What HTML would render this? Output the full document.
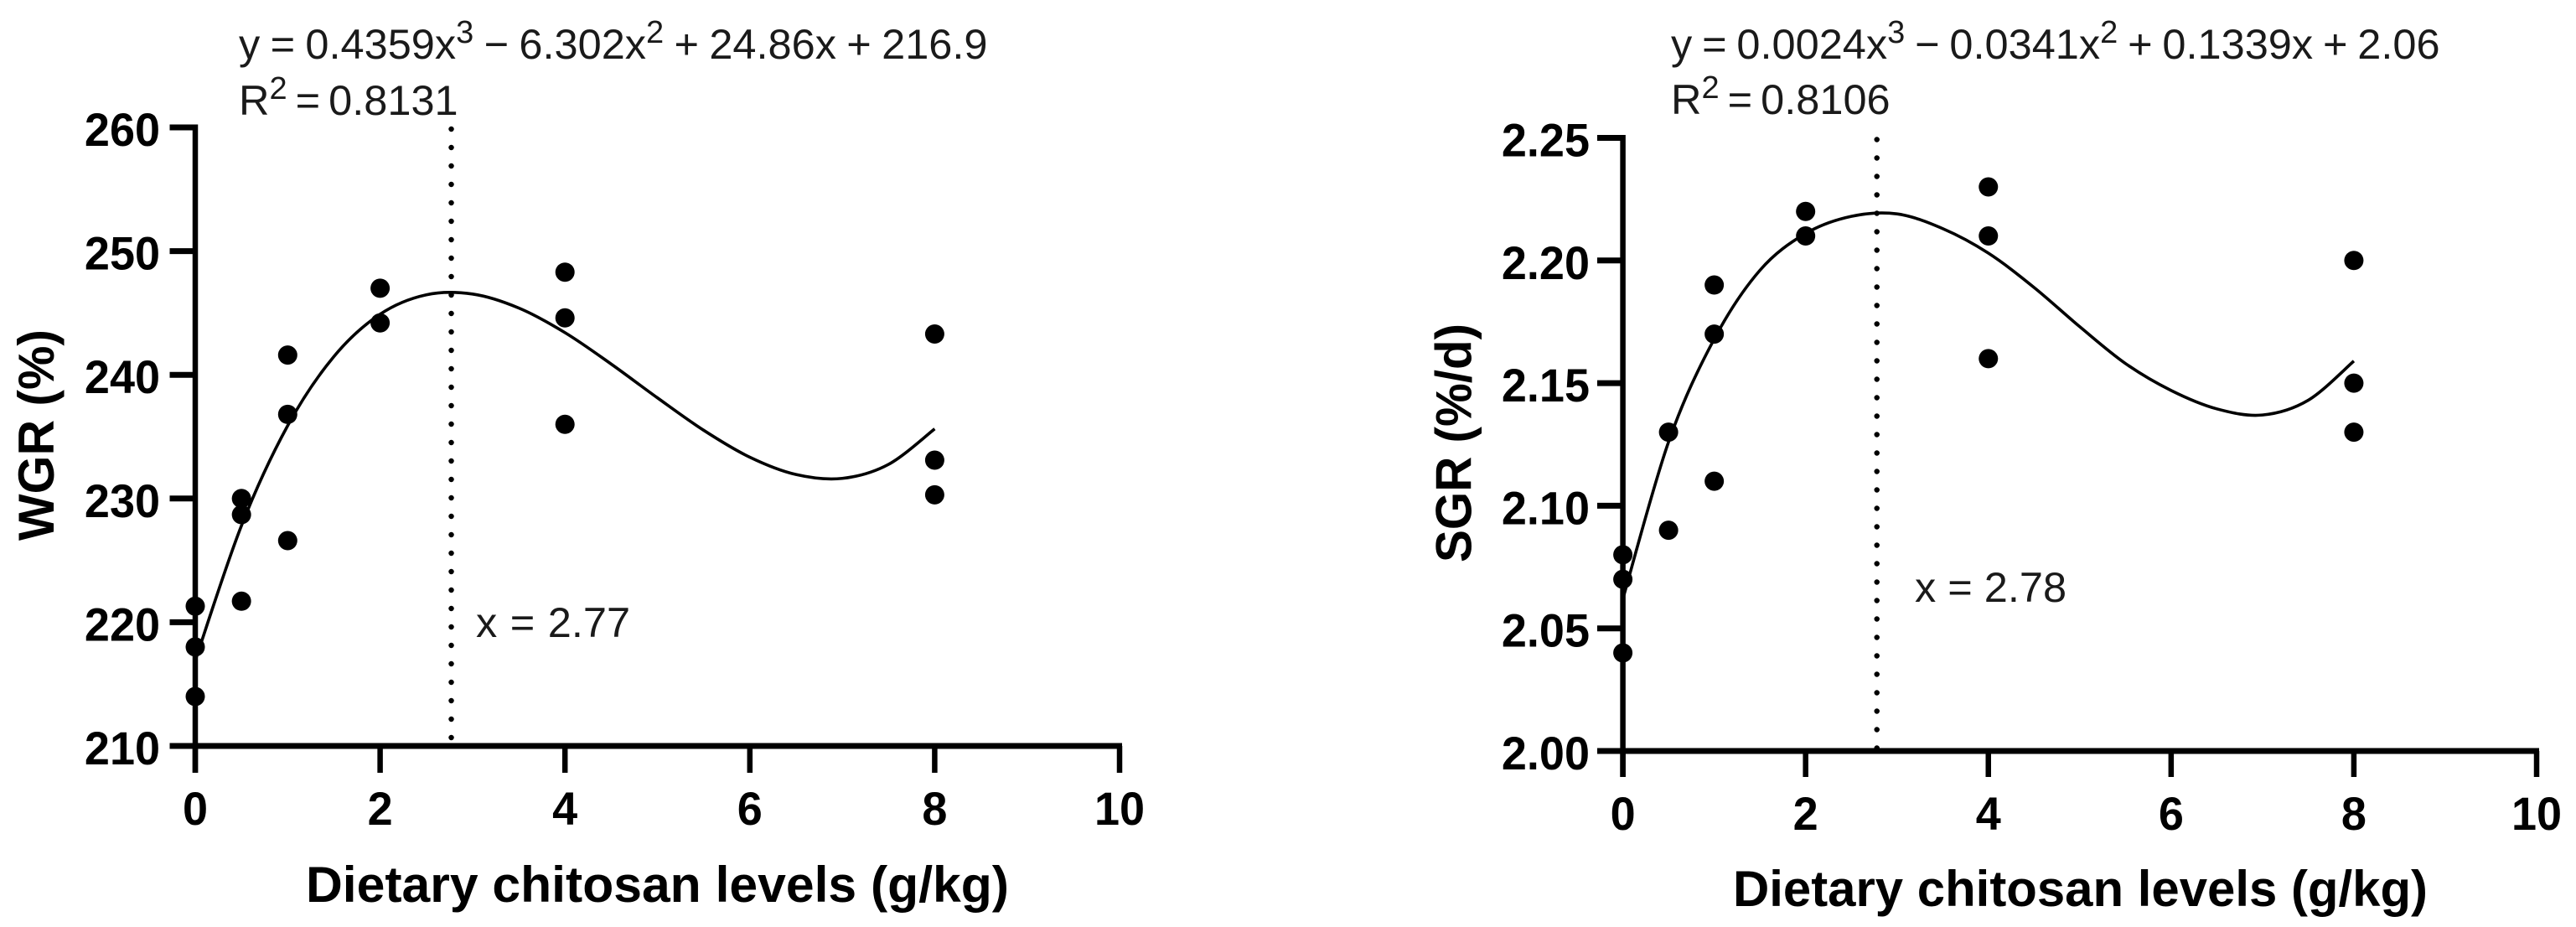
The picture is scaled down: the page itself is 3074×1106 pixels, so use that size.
<!DOCTYPE html>
<html lang="en">
<head>
<meta charset="utf-8">
<title>WGR and SGR vs dietary chitosan levels</title>
<style>
html,body{margin:0;padding:0;background:#fff;width:3074px;height:1106px;overflow:hidden}
svg{display:block}
text{font-family:"Liberation Sans",Arial,sans-serif;fill:#000}
.tick{font-weight:700;font-size:56px}
.title{font-weight:700;font-size:60px}
.note{font-size:50.5px;fill:#1a1a1a}
.eq{word-spacing:-1.7px}
.eq2{word-spacing:-2.2px}
.r2{word-spacing:-4px}
.opt{word-spacing:1.5px}
.opt2{word-spacing:0}
.sup{font-size:38px}
</style>
</head>
<body>
<svg id="figure" xmlns="http://www.w3.org/2000/svg" width="3074" height="1106" viewBox="0 0 3074 1106">
  <rect width="3074" height="1106" fill="#fff"/>

  <g id="panel-wgr">
    <text class="note eq" x="285" y="70">y = 0.4359x<tspan class="sup" dy="-19">3</tspan><tspan dy="19"> − 6.302x</tspan><tspan class="sup" dy="-19">2</tspan><tspan dy="19"> + 24.86x + 216.9</tspan></text>
    <text class="note r2" x="285" y="137">R<tspan class="sup" dy="-19">2</tspan><tspan dy="19"> = 0.8131</tspan></text>
    <text class="note opt" x="568" y="760">x = 2.77</text>
    <text class="title" transform="translate(64,645) rotate(-90)" textLength="252" lengthAdjust="spacingAndGlyphs">WGR (%)</text>
    <text class="title" x="365" y="1076" textLength="839" lengthAdjust="spacingAndGlyphs">Dietary chitosan levels (g/kg)</text>
  </g>

  <g id="panel-sgr">
    <text class="note eq2" x="1994" y="70">y = 0.0024x<tspan class="sup" dy="-19">3</tspan><tspan dy="19"> − 0.0341x</tspan><tspan class="sup" dy="-19">2</tspan><tspan dy="19"> + 0.1339x + 2.06</tspan></text>
    <text class="note r2" x="1994" y="136">R<tspan class="sup" dy="-19">2</tspan><tspan dy="19"> = 0.8106</tspan></text>
    <text class="note opt2" x="2285" y="718">x = 2.78</text>
    <text class="title" transform="translate(1755.5,671) rotate(-90)" textLength="285" lengthAdjust="spacingAndGlyphs">SGR (%/d)</text>
    <text class="title" x="2068" y="1081" textLength="829" lengthAdjust="spacingAndGlyphs">Dietary chitosan levels (g/kg)</text>
  </g>
</svg>

<script>
// Shared x axis
const xTickValues = [0, 2, 4, 6, 8, 10];

// WGR panel data
const wgrYTickValues = [210, 220, 230, 240, 250, 260];
const wgrYTickLabels = ["210", "220", "230", "240", "250", "260"];
const wgrPointX = [0, 0, 0, 0.5, 0.5, 0.5, 1, 1, 1, 2, 2, 4, 4, 4, 8, 8, 8];
const wgrPointY = [221.3, 218.0, 214.0, 230.0, 228.7, 221.7, 241.6, 236.8, 226.6, 247.0, 244.2, 248.3, 244.6, 236.0, 243.3, 233.1, 230.3];
const wgrCurveX = [0, 0.5, 1, 1.5, 2, 2.5, 3, 3.5, 4, 4.5, 5, 5.5, 6, 6.5, 7, 7.5, 8];
const wgrCurveY = [216.9, 227.81, 235.89, 241.48, 244.90, 246.47, 246.53, 245.40, 243.41, 240.87, 238.14, 235.52, 233.34, 231.94, 231.63, 232.76, 235.63];
const wgrOptimumX = 2.77;

// SGR panel data
const sgrYTickValues = [2.00, 2.05, 2.10, 2.15, 2.20, 2.25];
const sgrYTickLabels = ["2.00", "2.05", "2.10", "2.15", "2.20", "2.25"];
const sgrPointX = [0, 0, 0, 0.5, 0.5, 1, 1, 1, 2, 2, 4, 4, 4, 8, 8, 8];
const sgrPointY = [2.08, 2.07, 2.04, 2.13, 2.09, 2.19, 2.17, 2.11, 2.22, 2.21, 2.23, 2.21, 2.16, 2.20, 2.15, 2.13];
const sgrCurveX = [0, 0.5, 1, 1.5, 2, 2.5, 3, 3.5, 4, 4.5, 5, 5.5, 6, 6.5, 7, 7.5, 8];
const sgrCurveY = [2.062, 2.126, 2.168, 2.196, 2.211, 2.218, 2.219, 2.213, 2.203, 2.189, 2.173, 2.158, 2.147, 2.1395, 2.137, 2.143, 2.159];
const sgrOptimumX = 2.78;

const SVG_NS = "http://www.w3.org/2000/svg";

function make(parent, tag, attrs) {
  const el = document.createElementNS(SVG_NS, tag);
  for (const k in attrs) el.setAttribute(k, attrs[k]);
  parent.appendChild(el);
  return el;
}

function condense(textEl) {
  textEl.setAttribute('textLength', (textEl.getComputedTextLength() * 0.964).toFixed(2));
  textEl.setAttribute('lengthAdjust', 'spacingAndGlyphs');
}

function smoothPath(pts) {
  let d = "M" + pts[0][0].toFixed(2) + " " + pts[0][1].toFixed(2);
  for (let i = 0; i < pts.length - 1; i++) {
    const p0 = pts[Math.max(i - 1, 0)];
    const p1 = pts[i];
    const p2 = pts[i + 1];
    const p3 = pts[Math.min(i + 2, pts.length - 1)];
    const c1x = p1[0] + (p2[0] - p0[0]) / 6;
    const c1y = p1[1] + (p2[1] - p0[1]) / 6;
    const c2x = p2[0] - (p3[0] - p1[0]) / 6;
    const c2y = p2[1] - (p3[1] - p1[1]) / 6;
    d += "C" + [c1x, c1y, c2x, c2y, p2[0], p2[1]].map(v => v.toFixed(2)).join(" ");
  }
  return d;
}

function drawPanel(cfg) {
  const root = document.getElementById(cfg.id);
  const xScale = v => cfg.x0 + (v - xTickValues[0]) * (cfg.x1 - cfg.x0) / (xTickValues[xTickValues.length - 1] - xTickValues[0]);
  const yMin = cfg.yTicks[0];
  const yMax = cfg.yTicks[cfg.yTicks.length - 1];
  const yScale = v => cfg.yBottom + (v - yMin) * (cfg.yTop - cfg.yBottom) / (yMax - yMin);

  // Optimum dotted reference line
  const refLine = make(root, "line", {
    x1: xScale(cfg.optimum), x2: xScale(cfg.optimum),
    y1: yScale(yMax) + 2, y2: cfg.yBottom,
    stroke: "#000", "stroke-width": 6.5, "stroke-linecap": "round", "stroke-dasharray": "0 22"
  });
  
  

  // Y axis line
  const yAxis = make(root, "line", {
    x1: cfg.x0, x2: cfg.x0, y1: yScale(yMax) - 3.5, y2: cfg.tickBottom,
    stroke: "#000", "stroke-width": 6.5
  });
  
  

  // X axis line
  const xAxis = make(root, "line", {
    x1: cfg.yTickLeft, x2: xScale(10) + 3, y1: cfg.yBottom, y2: cfg.yBottom,
    stroke: "#000", "stroke-width": 7
  });
  
  

  // Y ticks
  cfg.yTicks.forEach((v, i) => {
    const t = make(root, "line", {
      x1: cfg.yTickLeft, x2: cfg.x0, y1: yScale(v), y2: yScale(v),
      stroke: "#000", "stroke-width": 7
    });
    
    
    const lab = make(root, "text", {
      class: "tick", x: cfg.yLabelRight, y: yScale(v) + 22, "text-anchor": "end"
    });
    
    
    lab.textContent = cfg.yLabels[i];
    condense(lab);
  });

  // X ticks
  xTickValues.forEach(v => {
    const t = make(root, "line", {
      x1: xScale(v), x2: xScale(v), y1: cfg.yBottom, y2: cfg.tickBottom,
      stroke: "#000", "stroke-width": 6.5
    });
    
    
    const lab = make(root, "text", {
      class: "tick", x: xScale(v), y: cfg.xLabelBase, "text-anchor": "middle"
    });
    
    
    lab.textContent = String(v);
    condense(lab);
  });

  // Fitted curve
  const pts = cfg.curveX.map((x, i) => [xScale(x), yScale(cfg.curveY[i])]);
  const curve = make(root, "path", {
    d: smoothPath(pts), fill: "none", stroke: "#000", "stroke-width": 3.6
  });
  
  

  // Data points
  cfg.pointX.forEach((x, i) => {
    const dot = make(root, "circle", {
      cx: xScale(x), cy: yScale(cfg.pointY[i]), r: 11.5, fill: "#000"
    });
    
    
  });
}

drawPanel({
  id: "panel-wgr",
  x0: 233, x1: 1336, yTop: 152, yBottom: 890,
  yTickLeft: 202.5, tickBottom: 922, yLabelRight: 191, xLabelBase: 984,
  yTicks: wgrYTickValues, yLabels: wgrYTickLabels,
  pointX: wgrPointX, pointY: wgrPointY,
  curveX: wgrCurveX, curveY: wgrCurveY,
  optimum: wgrOptimumX
});

drawPanel({
  id: "panel-sgr",
  x0: 1936.6, x1: 3027, yTop: 164.5, yBottom: 896,
  yTickLeft: 1906, tickBottom: 927, yLabelRight: 1897, xLabelBase: 990,
  yTicks: sgrYTickValues, yLabels: sgrYTickLabels,
  pointX: sgrPointX, pointY: sgrPointY,
  curveX: sgrCurveX, curveY: sgrCurveY,
  optimum: sgrOptimumX
});
</script>
</body>
</html>
